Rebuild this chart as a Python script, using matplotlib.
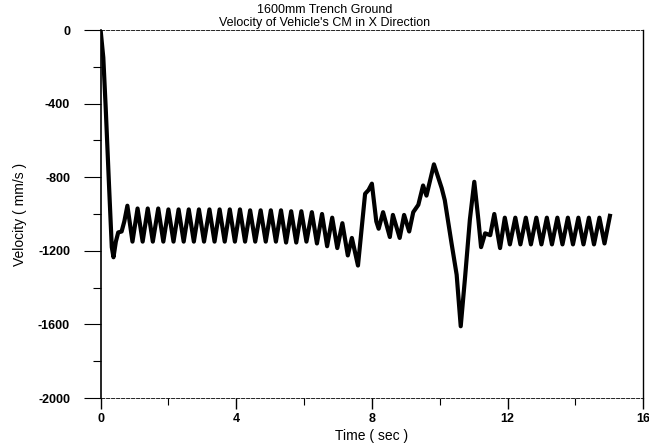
import numpy as np
import matplotlib.pyplot as plt

# Time (sec) and velocity (mm/s)
time_start = [0.00, 0.08, 0.15, 0.25, 0.33, 0.38, 0.45, 0.52, 0.62, 0.70]
vel_start = [0, -150, -420, -850, -1180, -1235, -1150, -1100, -1095, -1040]

# steady oscillation: peak / trough pairs
time_osc1 = [0.79, 0.94, 1.09, 1.24, 1.39, 1.54, 1.70, 1.85, 2.00, 2.15,
             2.30, 2.45, 2.60, 2.75, 2.90, 3.05, 3.21, 3.36, 3.51, 3.66,
             3.81, 3.96, 4.11, 4.26, 4.41, 4.56, 4.72, 4.87, 5.02, 5.17,
             5.32, 5.47, 5.62, 5.77, 5.92, 6.07, 6.23, 6.38, 6.53, 6.68,
             6.83, 6.98, 7.13, 7.29, 7.41, 7.59]
vel_osc1 = [-955, -1150, -970, -1150, -970, -1150, -970, -1150, -975, -1150,
            -975, -1150, -975, -1150, -975, -1150, -975, -1150, -975, -1150,
            -975, -1150, -975, -1150, -980, -1150, -980, -1150, -980, -1150,
            -980, -1155, -985, -1155, -985, -1150, -990, -1160, -1000, -1175,
            -1020, -1185, -1050, -1225, -1130, -1280]

# trench crossing
time_mid = [7.80, 7.90, 8.00, 8.13, 8.20, 8.33, 8.53, 8.62, 8.82, 8.95,
            9.10, 9.22, 9.37, 9.51, 9.61, 9.83, 10.06, 10.15, 10.35, 10.50,
            10.62, 10.75, 10.89, 11.02, 11.14, 11.22, 11.34, 11.49]
vel_mid = [-890, -870, -835, -1040, -1080, -990, -1125, -1005, -1130, -1005,
           -1095, -990, -950, -845, -900, -730, -860, -925, -1160, -1330,
           -1610, -1340, -1030, -825, -1030, -1180, -1105, -1115]

# oscillation after the trench
time_osc2 = [11.61, 11.78, 11.92, 12.07, 12.23, 12.38, 12.54, 12.69, 12.85, 13.00,
             13.16, 13.31, 13.47, 13.62, 13.78, 13.93, 14.09, 14.24, 14.40, 14.55,
             14.71, 14.86, 15.02]
vel_osc2 = [-1000, -1185, -1020, -1165, -1020, -1165, -1020, -1165, -1020, -1165,
            -1020, -1165, -1020, -1165, -1020, -1165, -1020, -1165, -1020, -1165,
            -1020, -1160, -1010]

t = np.array(time_start + time_osc1 + time_mid + time_osc2)
v = np.array(vel_start + vel_osc1 + vel_mid + vel_osc2)

plt.rcParams['font.family'] = ['Liberation Sans', 'DejaVu Sans']
plt.rcParams['axes.unicode_minus'] = False

fig = plt.figure(figsize=(6.49, 4.46), dpi=100)
ax = fig.add_axes([0.155, 0.1076, 0.836, 0.8251])

ax.plot(t, v, color='black', linewidth=3.0, solid_joinstyle='round')

ax.set_xlim(0, 16)
ax.set_ylim(-2000, 0)
ax.set_xticks([0, 4, 8, 12, 16])
ax.set_xticks([2, 6, 10, 14], minor=True)
ax.set_yticks([0, -400, -800, -1200, -1600, -2000])
ax.set_yticks([-200, -600, -1000, -1400, -1800], minor=True)
ax.tick_params(axis='y', which='major', direction='out', length=12, width=0.8, labelsize=9, pad=10)
ax.tick_params(axis='y', which='minor', direction='out', length=6, width=0.8)
ax.tick_params(axis='x', which='major', direction='out', length=8, width=1.0, labelsize=9, pad=3)
ax.tick_params(axis='x', which='minor', direction='out', length=5, width=0.8)
for lab in ax.get_xticklabels() + ax.get_yticklabels():
    lab.set_fontweight('bold')

# top and bottom frame lines look dashed in the original
ax.spines['top'].set_linestyle((0, (4, 2)))
ax.spines['bottom'].set_linestyle((0, (4, 2)))
for s in ['top', 'bottom']:
    ax.spines[s].set_linewidth(0.6)
ax.spines['left'].set_linewidth(1.2)
ax.spines['right'].set_linewidth(1.0)

ax.set_xlabel('Time ( sec )', fontsize=10, labelpad=3)
ax.set_ylabel('Velocity ( mm/s )', fontsize=10, labelpad=8)

fig.text(0.5, 0.99, "1600mm Trench Ground\nVelocity of Vehicle's CM in X Direction",
         ha='center', va='top', fontsize=9, linespacing=1.1)

plt.savefig('out.png', dpi=100)
